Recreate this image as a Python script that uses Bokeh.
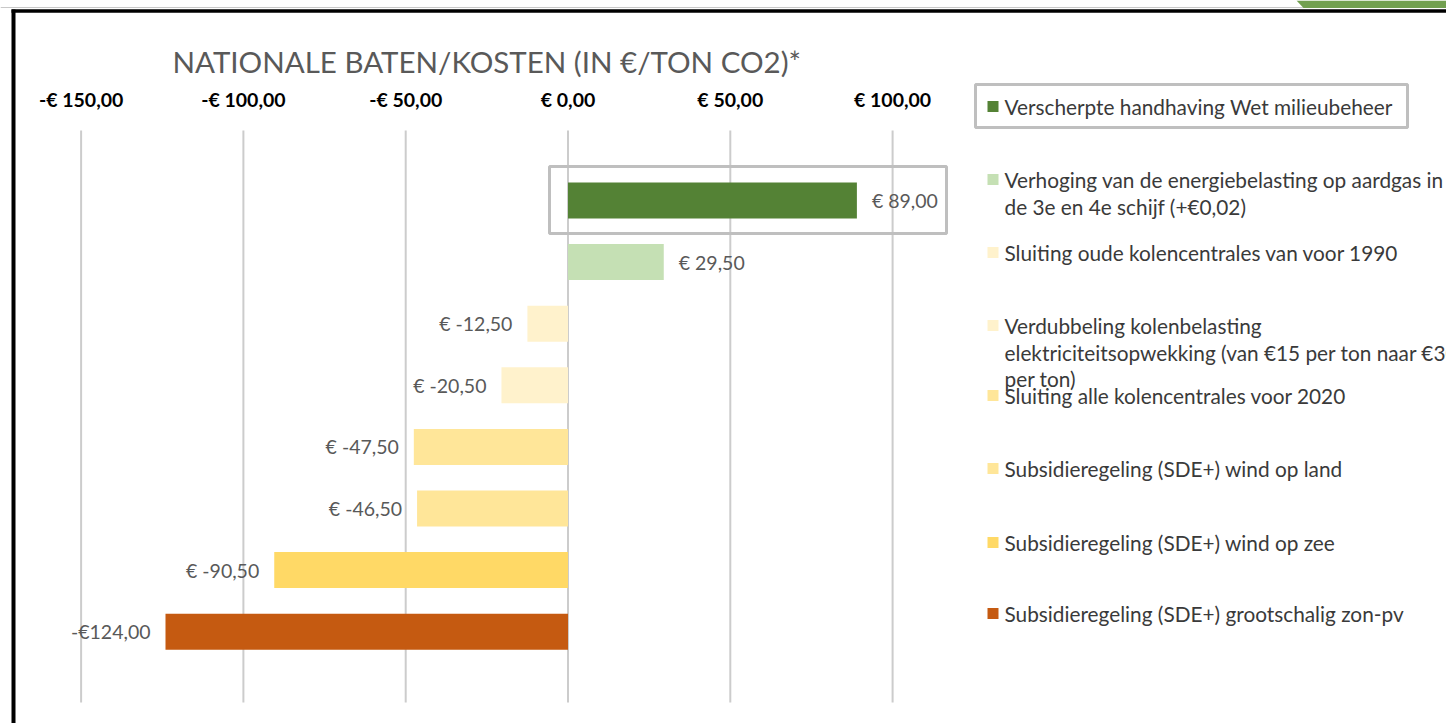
from bokeh.plotting import figure
from bokeh.models import Range1d, LinearAxis, FixedTicker, ColumnDataSource, Label
from bokeh.core.properties import value
from bokeh.embed import file_html
from bokeh.resources import INLINE

# ---------------- data ----------------
title = "NATIONALE BATEN/KOSTEN (IN €/TON CO2)*"
measures = [
    "Verscherpte handhaving Wet milieubeheer",
    "Verhoging van de energiebelasting op aardgas in de 3e en 4e schijf (+€0,02)",
    "Sluiting oude kolencentrales van voor 1990",
    "Verdubbeling kolenbelasting elektriciteitsopwekking (van €15 per ton naar €30 per ton)",
    "Sluiting alle kolencentrales voor 2020",
    "Subsidieregeling (SDE+) wind op land",
    "Subsidieregeling (SDE+) wind op zee",
    "Subsidieregeling (SDE+) grootschalig zon-pv",
]
values = [89.0, 29.5, -12.5, -20.5, -47.5, -46.5, -90.5, -124.0]
value_labels = ["€ 89,00", "€ 29,50", "€ -12,50", "€ -20,50", "€ -47,50", "€ -46,50", "€ -90,50", "-€124,00"]
colors = ["#548235", "#C5E0B4", "#FFF2CC", "#FFF2CC", "#FFE699", "#FFE699", "#FFD966", "#C55A11"]
ticks = [-150, -100, -50, 0, 50, 100]
tick_labels = ["-€ 150,00", "-€ 100,00", "-€ 50,00", "€ 0,00", "€ 50,00", "€ 100,00"]
legend_lines = [
    ["Verscherpte handhaving Wet milieubeheer"],
    ["Verhoging van de energiebelasting op aardgas in", "de 3e en 4e schijf (+€0,02)"],
    ["Sluiting oude kolencentrales van voor 1990"],
    ["Verdubbeling kolenbelasting", "elektriciteitsopwekking (van €15 per ton naar €30", "per ton)"],
    ["Sluiting alle kolencentrales voor 2020"],
    ["Subsidieregeling (SDE+) wind op land"],
    ["Subsidieregeling (SDE+) wind op zee"],
    ["Subsidieregeling (SDE+) grootschalig zon-pv"],
]

# ---------------- layout (pixels) ----------------
W, H = 1446, 723
X0_PX, PX_PER_UNIT = 567.5, 3.246
ROW0_PX, ROW_PX = 200.0, 61.6
FONT = "Lato"


def xd(px):
    return (px - X0_PX) / PX_PER_UNIT


def yd(py):
    return (py - ROW0_PX) / ROW_PX


p = figure(width=W, height=H, x_range=Range1d(xd(0), xd(W)), y_range=Range1d(yd(H), yd(0)),
           min_border=0, toolbar_location=None, output_backend="svg",
           x_axis_location=None, y_axis_location=None, outline_line_color=None,
           background_fill_color="white", border_fill_color="white")
p.grid.grid_line_color = None

# gridlines
p.segment(x0=ticks, x1=ticks, y0=yd(130), y1=yd(702), line_color="#CCCCCC", line_width=2)

# bars
rows = list(range(len(values)))
src = ColumnDataSource(dict(
    y=rows, v=values, c=colors, lab=value_labels,
    off=[15 if v >= 0 else -15 for v in values],
    al=["left" if v >= 0 else "right" for v in values],
))
p.hbar(y="y", left=0, right="v", height=36 / ROW_PX, fill_color="c", line_color=None, source=src)
p.text(x="v", y="y", text="lab", x_offset="off", text_align="al", text_baseline="middle",
       text_font=value(FONT), text_font_size="19.5px", text_color="#595959", source=src)

# highlight box around first bar
p.quad(left=xd(549), right=xd(946), top=yd(166), bottom=yd(233), fill_color=None,
       line_color="#BFBFBF", line_width=3)

# axis on top
ax = LinearAxis(ticker=FixedTicker(ticks=ticks),
                major_label_overrides={t: l for t, l in zip(ticks, tick_labels)},
                fixed_location=yd(130), axis_line_color=None, major_tick_line_color=None,
                minor_tick_line_color=None, major_label_text_font=FONT,
                major_label_text_font_style="bold", major_label_text_font_size="19.5px",
                major_label_text_color="#000000", major_label_standoff=14)
p.add_layout(ax, "above")

# title
p.add_layout(Label(x=xd(172), y=yd(61), text=title, text_font=FONT, text_font_size="29.5px",
                   text_color="#595959", text_baseline="middle", text_align="left"))

# legend
item_py = [106, 179, 252, 325, 395, 468, 542, 613]
line_gap = 26.5
lx, ly, lt = [], [], []
for py, lines in zip(item_py, legend_lines):
    for j, t in enumerate(lines):
        lx.append(xd(1004))
        ly.append(yd(py + j * line_gap))
        lt.append(t)
p.text(x=lx, y=ly, text=lt, text_align="left", text_baseline="middle",
       text_font=value(FONT), text_font_size="20.8px", text_color="#3A3A3A")
p.scatter(x=[xd(992.5)] * len(colors), y=[yd(v) for v in item_py], marker="square", size=11,
          fill_color=colors, line_color=None)
p.quad(left=xd(975), right=xd(1407), top=yd(84), bottom=yd(127), fill_color=None,
       line_color="#BFBFBF", line_width=3)

# slide frame & decoration
p.segment(x0=xd(0), x1=xd(W), y0=yd(7), y1=yd(7), line_color="#C8C8C8", line_width=1)
p.segment(x0=xd(11), x1=xd(W), y0=yd(10.5), y1=yd(10.5), line_color="black", line_width=3.5)
p.segment(x0=xd(13), x1=xd(13), y0=yd(9), y1=yd(H), line_color="black", line_width=4)
p.patch(x=[xd(1296), xd(W), xd(W), xd(1303)], y=[yd(0), yd(0), yd(7.5), yd(7.5)],
        fill_color="#72A050", line_color=None)

open("out.html", "w").write(file_html(p, INLINE))
